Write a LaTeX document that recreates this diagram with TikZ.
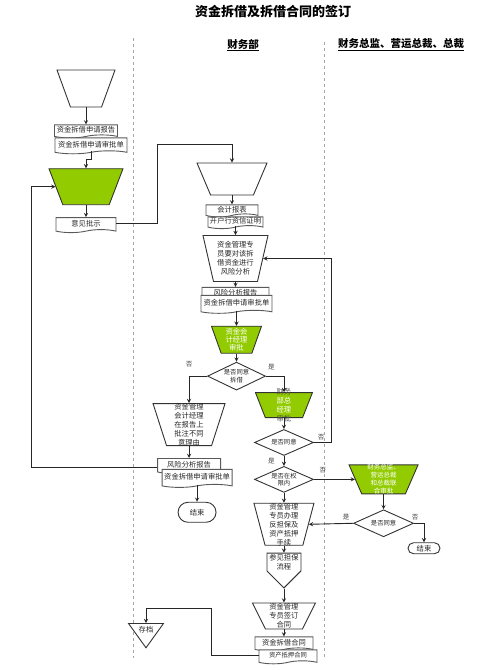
\documentclass[tikz,border=0pt]{standalone}
\usepackage{fontspec}
\setmainfont{Noto Sans CJK SC}
\usetikzlibrary{positioning, shapes.geometric, shapes.symbols, shapes.misc}
\definecolor{leadgreen}{RGB}{146,204,0}

\begin{document}
\begin{tikzpicture}[x=1pt, y=-1pt, >=stealth,
    every node/.style={font=\fontsize{7.3}{9}\selectfont, text=black!85},
    manualnode/.style={trapezium, trapezium angle=#1, shape border rotate=180, trapezium stretches body=true, draw=black!80, line width=0.9pt, fill=white, align=center, inner xsep=1pt},
    greennode/.style={manualnode=#1, fill=leadgreen, text=white},
    docnode/.style={tape, tape bend top=none, tape bend height=3pt, draw=black!65, line width=0.9pt, fill=white, inner sep=1pt},
    decisionnode/.style={diamond, aspect=2, draw=black!80, line width=0.9pt, fill=white, inner sep=0pt, align=center, font=\fontsize{6.3}{7.5}\selectfont},
    endnode/.style={rounded rectangle, draw=black!80, line width=0.9pt, fill=white, inner sep=0pt},
    connector/.style={signal, signal to=south, signal from=nowhere, draw=black!80, line width=0.9pt, fill=white, align=center, inner sep=1pt},
    archivenode/.style={isosceles triangle, isosceles triangle stretches=true, shape border rotate=270, draw=black!80, line width=0.9pt, fill=white, inner sep=0pt},
    flow/.style={->, draw=black!85, line width=0.9pt},
    answer/.style={font=\fontsize{6.5}{7}\selectfont, text=black!75, inner sep=1pt},
    lane/.style={draw=black!35, dashed, line width=0.6pt},
    lanehead/.style={font=\bfseries\fontsize{10.5}{12}\selectfont, text=black}
   ]
  \useasboundingbox (0,0) rectangle (503,670);
  \node[font=\bfseries\fontsize{13}{15}\selectfont, text=black] (title) at (273,12) {资金拆借及拆借合同的签订};
  \node[lanehead] (finHead) at (243,45) {\underline{财务部}};
  \node[lanehead] (execHead) at (401,45) {\underline{财务总监、营运总裁、总裁}};
  \draw[lane] (133,38) -- (133,658);
  \draw[lane] (324,42) -- (324,658);

  % applicant column
  \node[manualnode=70, minimum width=58pt, minimum height=37pt, inner xsep=0pt, inner ysep=18.5pt] (startLead) at (86,88.5) {};
  \node[docnode, minimum width=63pt, minimum height=13pt] (reqReport) [below=17pt of startLead] {资金拆借申请报告};
  \node[docnode, minimum width=72pt, minimum height=16pt] (reqForm) [below=2pt of reqReport, xshift=5pt] {资金拆借申请审批单};
  \node[greennode=69, minimum width=74pt, minimum height=36pt, inner xsep=0pt, inner ysep=18pt] (leadApprove) [below=17pt of reqForm, xshift=-5pt] {};
  \node[docnode, minimum width=60pt, minimum height=15pt] (opinion) [below=12pt of leadApprove] {意见批示};

  % finance column
  \node[manualnode=67, minimum width=70pt, minimum height=32pt, inner xsep=0pt, inner ysep=16pt] (startFin) at (232,179) {};
  \node[docnode, minimum width=52pt, minimum height=12pt] (acctReport) [below=9pt of startFin] {会计报表};
  \node[docnode, minimum width=55pt, minimum height=11pt] (bankCert) [below=2pt of acctReport, xshift=3.5pt] {开户行资信证明};
  \node[manualnode=77, minimum width=65pt, minimum height=46pt, inner ysep=5.85pt] (riskTask) [below=9pt of bankCert] {资金管理专\\员要对该拆\\借资金进行\\风险分析};
  \node[docnode, minimum width=67pt, minimum height=14pt] (riskRepA) [below=5pt of riskTask] {风险分析报告};
  \node[docnode, minimum width=71pt, minimum height=18pt] (riskFormA) [below=-4pt of riskRepA, xshift=1pt] {资金拆借申请审批单};
  \node[greennode=70, minimum width=50pt, minimum height=27pt, inner ysep=1.65pt, font=\fontsize{7.3}{8.2}\selectfont] (mgrApprove) [below=15pt of riskFormA] {资金会\\计经理\\审批};
  \node[decisionnode, minimum width=58pt, minimum height=28pt] (agreeLoan) [below=8pt of mgrApprove] {是否同意\\拆借};
  \node[manualnode=72, minimum width=72pt, minimum height=42pt, inner ysep=-0.65pt] (rejectNote) [below=27pt of agreeLoan.west, xshift=-18pt] {资金管理\\会计经理\\在报告上\\批注不同\\意理由};
  \node[docnode, minimum width=63pt, minimum height=15pt] (riskRepB) [below=12pt of rejectNote] {风险分析报告};
  \node[docnode, minimum width=70pt, minimum height=18pt] (riskFormB) [below=-2pt of riskRepB, xshift=8pt] {资金拆借申请审批单};
  \node[endnode, minimum width=38pt, minimum height=20pt] (endA) [below=17pt of riskFormB] {结束};
  \node[greennode=68, minimum width=57pt, minimum height=25pt, inner ysep=-4.65pt] (deptApprove) [below=16pt of agreeLoan.east, xshift=18pt] {{\color{black!70}财务}\\部总\\经理\\{\color{black!70}审批}};
  \node[decisionnode, minimum width=59pt, minimum height=26pt] (agreeDept) [below=11pt of deptApprove] {是否同意};
  \node[decisionnode, minimum width=59pt, minimum height=26pt] (inLimit) [below=10pt of agreeDept] {是否在权\\限内};
  \node[manualnode=75, minimum width=60pt, minimum height=42pt, inner ysep=-0.65pt] (pledgeTask) [below=10pt of inLimit] {资金管理\\专员办理\\反担保及\\资产抵押\\手续};
  \node[connector, minimum width=34pt, minimum height=28pt] (guarantee) [below=7pt of pledgeTask] {参见担保\\流程};
  \node[manualnode=63, minimum width=63pt, minimum height=26pt, inner ysep=0.35pt] (signTask) [below=14pt of guarantee] {资金管理\\专员签订\\合同};
  \node[docnode, minimum width=58pt, minimum height=14pt] (loanContract) [below=7pt of signTask] {资金拆借合同};
  \node[docnode, minimum width=58pt, minimum height=14pt, font=\fontsize{6.3}{7}\selectfont] (pledgeContract) [below=1pt of loanContract, xshift=4pt] {资产抵押合同};
  \node[archivenode, minimum width=35pt, minimum height=21pt, anchor=north] (archive) at (146,623) {存档};

  % executive column
  \node[greennode=66, minimum width=69pt, minimum height=29pt, inner ysep=-0.75pt, font=\fontsize{6.5}{8}\selectfont] (jointApprove) [right=41pt of inLimit] {财务总监、\\营运总裁\\和总裁联\\合审批};
  \node[decisionnode, minimum width=60pt, minimum height=27pt] (agreeJoint) [below=15pt of jointApprove] {是否同意};
  \node[endnode, minimum width=32pt, minimum height=11pt] (endB) [below=19pt of agreeJoint.east, xshift=10pt] {结束};

  \draw[flow] (startLead.south) -- (reqReport.north);
  \draw[flow] (reqForm.south) -- ++(0,8) -| (leadApprove.north);
  \draw[flow] (leadApprove.south) -- (opinion.north);
  \draw[flow] (opinion.east) -- ++(41,0) |- ([yshift=18pt]startFin.north) -- (startFin.north);
  \draw[flow] ([yshift=-3pt]riskRepB.west) -- ++(-126,0) |- (leadApprove.west);
  \draw[flow] (startFin.south) -- (acctReport.north);
  \draw[flow] (bankCert.south) -- (riskTask.north);
  \draw[flow] (riskTask.south) -- (riskRepA.north);
  \draw[flow] (riskFormA.south) -- (mgrApprove.north);
  \draw[flow] (mgrApprove.south) -- (agreeLoan.north);
  \draw[flow] (agreeLoan.west) -| node[answer, pos=0.5, above=8pt] {否} (rejectNote.north);
  \draw[flow] (agreeLoan.east) -| node[answer, pos=0.15, above=5pt] {是} (deptApprove.north);
  \draw[flow] (rejectNote.south) -- (riskRepB.north);
  \draw[flow] (riskFormB.south) -- (endA.north);
  \draw[flow] (deptApprove.south) -- (agreeDept.north);
  \draw[flow] (agreeDept.east) -- node[answer, pos=0.4, above=1pt] {否} ++(18,0) |- (riskTask.east);
  \draw[flow] (agreeDept.south) -- node[answer, left=8pt] {是} (inLimit.north);
  \draw[flow] (inLimit.east) -- node[answer, pos=0.22, above=5pt] {否} (jointApprove.west);
  \draw[flow] (inLimit.south) -- (pledgeTask.north);
  \draw[flow] (pledgeTask.south) -- (guarantee.north);
  \draw[flow] (guarantee.south) -- (signTask.north);
  \draw[flow] (signTask.south) -- (loanContract.north);
  \draw[flow] (jointApprove.south) -- (agreeJoint.north);
  \draw[flow] (agreeJoint.west) -- node[answer, pos=0.16, above=2pt] {是} (pledgeTask.east);
  \draw[flow] (agreeJoint.east) -| node[answer, pos=0.05, above=2pt] {否} (endB.north);
  \draw[flow] (pledgeContract.west) -- ++(-47,0) |- ([yshift=15pt]archive.north) -- (archive.north);
\end{tikzpicture}
\end{document}
